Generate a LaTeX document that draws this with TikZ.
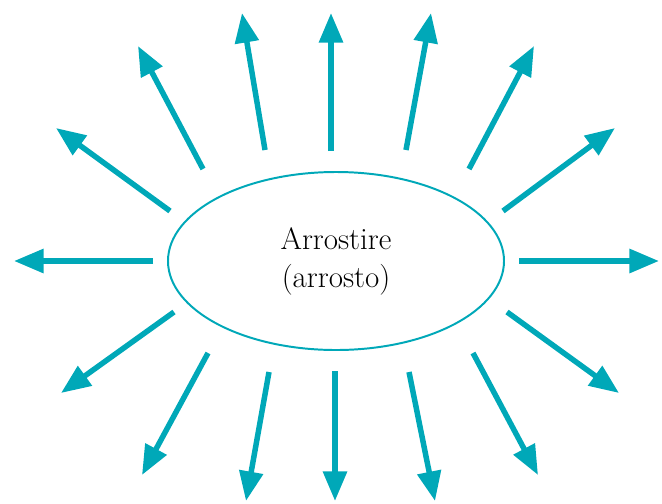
\documentclass[tikz,border=0pt]{standalone}
\usepackage{tikz}
\usetikzlibrary{arrows.meta,shapes.geometric}
\definecolor{raycol}{RGB}{0,168,184}
\tikzset{
  ray/.style={raycol,line width=3.9pt,-{Triangle[length=7.4mm,width=5.8mm]}},
  core/.style={ellipse,draw=raycol,line width=1.4pt,minimum width=8.4cm,
    minimum height=4.45cm,inner sep=0pt,align=center,
    font=\fontsize{22}{27}\selectfont}
}
\begin{document}
\begin{tikzpicture}[x=0.25mm,y=-0.25mm]
  \useasboundingbox (0,0) rectangle (662,503);
  \node[core] (roast) at (336,261) {Arrostire\\(arrosto)};
  % rays: tail x/y, head x/y of each arrow
  \foreach \tx/\ty/\hx/\hy [count=\i] in {
      331/151/331/13, 265/150/242/13, 406/150/431/13,
      203/169/138/46, 469/169/534/46,
      170/211/56/128, 503/211/615/128,
      153/261/14/261, 519/261/659/261,
      174/312/61/393, 507/312/619/393,
      208/353/142/475, 473/353/538/475,
      269/372/246/501, 335/371/335/501, 409/372/435/501}
    {\coordinate (t\i) at (\tx,\ty);
     \coordinate (h\i) at (\hx,\hy);
     \draw[ray] (t\i) -- (h\i);}
\end{tikzpicture}
\end{document}
